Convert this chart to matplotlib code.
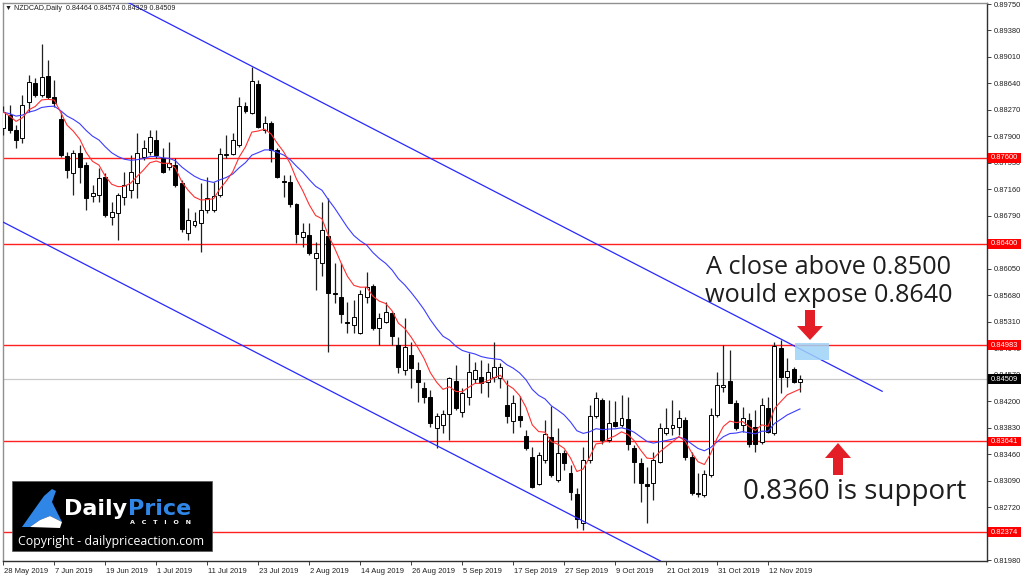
import matplotlib
matplotlib.use("Agg")
import matplotlib.pyplot as plt
from matplotlib.patches import Rectangle, Polygon
import matplotlib.transforms as mtransforms
import numpy as np
import pandas as pd

# ---------------- data ----------------
header_text = "\u25BC NZDCAD,Daily  0.84464 0.84574 0.84329 0.84509"
start_date = "2019-05-28"

opens = [0.8802, 0.8820, 0.8799, 0.8788, 0.8838, 0.8865, 0.8848, 0.8874, 0.8845, 0.8814,
         0.8763, 0.8739, 0.8767, 0.8750, 0.8707, 0.8708, 0.8733, 0.8678, 0.8683, 0.8705,
         0.8715, 0.8725, 0.8761, 0.8768, 0.8785, 0.8760, 0.8747, 0.8750, 0.8725, 0.8655,
         0.8666, 0.8669, 0.8687, 0.8687, 0.8708, 0.8764, 0.8766, 0.8778, 0.8833, 0.8823,
         0.8863, 0.8799, 0.8809, 0.8771, 0.8728, 0.8727, 0.8696, 0.8650, 0.8652, 0.8620,
         0.8613, 0.8651, 0.8571, 0.8566, 0.8531, 0.8527, 0.8515, 0.8566, 0.8581, 0.8522,
         0.8531, 0.8543, 0.8499, 0.8464, 0.8485, 0.8464, 0.8439, 0.8426, 0.8383, 0.8387,
         0.8402, 0.8448, 0.8405, 0.8426, 0.8451, 0.8454, 0.8447, 0.8454, 0.8453, 0.8415,
         0.8392, 0.8400, 0.8372, 0.8342, 0.8304, 0.8338, 0.8370, 0.8310, 0.8348, 0.8320,
         0.8290, 0.8250, 0.8338, 0.8400, 0.8422, 0.8366, 0.8391, 0.8387, 0.8395, 0.8355,
         0.8334, 0.8304, 0.8306, 0.8335, 0.8376, 0.8382, 0.8384, 0.8394, 0.8342, 0.8292,
         0.8289, 0.8317, 0.8401, 0.8440, 0.8448, 0.8418, 0.8387, 0.8394, 0.8384, 0.8363,
         0.8411, 0.8376, 0.8494, 0.8454, 0.8465, 0.84464]
highs = [0.8833, 0.8834, 0.8806, 0.8848, 0.8876, 0.8872, 0.8919, 0.8897, 0.8869, 0.8824,
         0.8768, 0.8771, 0.8778, 0.8754, 0.8722, 0.8746, 0.8739, 0.8698, 0.8711, 0.8741,
         0.8764, 0.8795, 0.8785, 0.8799, 0.8799, 0.8774, 0.8782, 0.8760, 0.8729, 0.8690,
         0.8684, 0.8725, 0.8733, 0.8726, 0.8774, 0.8792, 0.8795, 0.8845, 0.8838, 0.8887,
         0.8869, 0.8818, 0.8812, 0.8774, 0.8736, 0.8736, 0.8697, 0.8669, 0.8669, 0.8643,
         0.8698, 0.8704, 0.8613, 0.8613, 0.8559, 0.8562, 0.8576, 0.8601, 0.8584, 0.8544,
         0.8559, 0.8545, 0.8510, 0.8536, 0.8503, 0.8475, 0.8447, 0.8436, 0.8404, 0.8408,
         0.8454, 0.8471, 0.8439, 0.8488, 0.8475, 0.8478, 0.8473, 0.8503, 0.8473, 0.8450,
         0.8429, 0.8427, 0.8380, 0.8356, 0.8349, 0.8394, 0.8413, 0.8383, 0.8352, 0.8331,
         0.8299, 0.8356, 0.8415, 0.8433, 0.8425, 0.8422, 0.8420, 0.8429, 0.8426, 0.8359,
         0.8341, 0.8328, 0.8349, 0.8390, 0.8411, 0.8422, 0.8408, 0.8398, 0.8349, 0.8320,
         0.8324, 0.8411, 0.8461, 0.8499, 0.8492, 0.8422, 0.8412, 0.8404, 0.8408, 0.8425,
         0.8426, 0.8503, 0.8506, 0.8481, 0.8468, 0.84574]
lows = [0.8792, 0.8795, 0.8774, 0.8781, 0.8824, 0.8845, 0.8845, 0.8842, 0.8831, 0.8761,
        0.8732, 0.8708, 0.8725, 0.8687, 0.8698, 0.8698, 0.8678, 0.8666, 0.8645, 0.8694,
        0.8704, 0.8704, 0.8757, 0.8764, 0.8760, 0.8739, 0.8743, 0.8720, 0.8656, 0.8645,
        0.8664, 0.8629, 0.8683, 0.8684, 0.8705, 0.8760, 0.8764, 0.8775, 0.8823, 0.8821,
        0.8802, 0.8795, 0.8754, 0.8732, 0.8705, 0.8691, 0.8641, 0.8636, 0.8624, 0.8576,
        0.8595, 0.8489, 0.8557, 0.8529, 0.8515, 0.8515, 0.8514, 0.8557, 0.8520, 0.8499,
        0.8529, 0.8499, 0.8460, 0.8457, 0.8439, 0.8419, 0.8418, 0.8384, 0.8355, 0.8376,
        0.8366, 0.8408, 0.8398, 0.8415, 0.8446, 0.8432, 0.8426, 0.8447, 0.8439, 0.8390,
        0.8376, 0.8384, 0.8352, 0.8299, 0.8303, 0.8334, 0.8314, 0.8307, 0.8324, 0.8282,
        0.8243, 0.8240, 0.8334, 0.8396, 0.8360, 0.8363, 0.8384, 0.8384, 0.8352, 0.8306,
        0.8279, 0.8250, 0.8282, 0.8334, 0.8373, 0.8373, 0.8373, 0.8338, 0.8289, 0.8286,
        0.8286, 0.8314, 0.8398, 0.8433, 0.8418, 0.8380, 0.8377, 0.8356, 0.8349, 0.8360,
        0.8376, 0.8373, 0.8432, 0.8440, 0.8446, 0.84329]
closes = [0.8824, 0.8799, 0.8785, 0.8834, 0.8866, 0.8848, 0.8873, 0.8845, 0.8837, 0.8764,
          0.8743, 0.8767, 0.8747, 0.8704, 0.8711, 0.8732, 0.8680, 0.8684, 0.8708, 0.8722,
          0.8741, 0.8767, 0.8774, 0.8789, 0.8764, 0.8741, 0.8753, 0.8722, 0.8660, 0.8673,
          0.8672, 0.8687, 0.8704, 0.8707, 0.8766, 0.8766, 0.8785, 0.8833, 0.8826, 0.8868,
          0.8803, 0.8809, 0.8771, 0.8733, 0.8727, 0.8696, 0.8654, 0.8656, 0.8627, 0.8627,
          0.8659, 0.8571, 0.8570, 0.8542, 0.8529, 0.8538, 0.8570, 0.8580, 0.8522, 0.8536,
          0.8545, 0.8511, 0.8468, 0.8496, 0.8467, 0.8447, 0.8426, 0.8390, 0.8399, 0.8402,
          0.8453, 0.8411, 0.8432, 0.8461, 0.8464, 0.8446, 0.8461, 0.8468, 0.8468, 0.8399,
          0.8418, 0.8394, 0.8355, 0.8300, 0.8345, 0.8374, 0.8317, 0.8348, 0.8334, 0.8293,
          0.8256, 0.8338, 0.8400, 0.8425, 0.8366, 0.8390, 0.8385, 0.8397, 0.8360, 0.8335,
          0.8306, 0.8301, 0.8338, 0.8382, 0.8382, 0.8387, 0.8397, 0.8342, 0.8292, 0.8291,
          0.8318, 0.8401, 0.8443, 0.8443, 0.8418, 0.8383, 0.8397, 0.8360, 0.8360, 0.8415,
          0.8377, 0.8497, 0.8454, 0.8462, 0.8447, 0.84509]

ema_fast_span = 8
ema_slow_span = 21

level_prices = [0.87600, 0.86400, 0.84983, 0.83641, 0.82374]
level_labels = ["0.87600", "0.86400", "0.84983", "0.83641", "0.82374"]
current_price = 0.84509
current_label = "0.84509"

ytick_values = [0.89750, 0.89380, 0.89010, 0.88640, 0.88270, 0.87900, 0.87530, 0.87160,
                0.86790, 0.86420, 0.86050, 0.85680, 0.85310, 0.84940, 0.84570, 0.84200,
                0.83830, 0.83460, 0.83090, 0.82720, 0.82350, 0.81980]
hidden_ytick_values = [0.86420, 0.82350]   # fully covered by level boxes in the reference
xtick_labels = ["28 May 2019", "7 Jun 2019", "19 Jun 2019", "1 Jul 2019", "11 Jul 2019",
                "23 Jul 2019", "2 Aug 2019", "14 Aug 2019", "26 Aug 2019", "5 Sep 2019",
                "17 Sep 2019", "27 Sep 2019", "9 Oct 2019", "21 Oct 2019", "31 Oct 2019",
                "12 Nov 2019"]

# channel trend lines: (bar index, price) anchors
upper_channel = [(39.0, 0.8888), (137.9, 0.8434)]
lower_channel = [(-0.4, 0.8672), (103.1, 0.8197)]

annotation_top = ["A close above 0.8500", "would expose 0.8640"]
annotation_bottom = "0.8360 is support"
logo_word1 = "Daily"
logo_word2 = "Price"
logo_word3 = "A   C   T   I   O   N"
copyright_text = "Copyright - dailypriceaction.com"

# ---------------- figure ----------------
W, H = 1024, 578
fig = plt.figure(figsize=(W / 100, H / 100), dpi=100)
fig.patch.set_facecolor("white")
small_font = ["Liberation Sans", "DejaVu Sans"]

L, R, T, B = 3, 987, 3, 561
ax = fig.add_axes([L / W, (H - B) / H, (R - L) / W, (B - T) / H])
ax.set_facecolor("white")

n = len(closes)
xs = np.arange(n)
dates = pd.bdate_range(start_date, periods=n)

o = np.array(opens); h = np.array(highs); lo = np.array(lows); c = np.array(closes)

# wicks
ax.vlines(xs, lo, h, color="#202020", lw=0.9, zorder=3)
# bodies
bw = 0.62
for i in range(n):
    bottom = min(o[i], c[i])
    height = abs(c[i] - o[i])
    bull = c[i] >= o[i]
    if height < 0.00004:
        ax.hlines(o[i], i - bw / 2, i + bw / 2, color="black", lw=0.9, zorder=4)
    else:
        ax.add_patch(Rectangle((i - bw / 2, bottom), bw, height,
                               facecolor="white" if bull else "black",
                               edgecolor="black", lw=0.7, zorder=4))

# moving averages
cs = pd.Series(closes)
ema_fast = cs.ewm(span=ema_fast_span, adjust=False).mean()
ema_slow = cs.ewm(span=ema_slow_span, adjust=False).mean()
ax.plot(xs, ema_slow, color="#3c3cff", lw=0.8, zorder=5)
ax.plot(xs, ema_fast, color="#ff3030", lw=0.8, zorder=5)

# horizontal levels
for p in level_prices:
    ax.axhline(p, color="#ff2020", lw=1.0, zorder=2)
ax.axhline(current_price, color="#c8c8c8", lw=0.9, zorder=1)

# channel lines
def line_through(pts, x0, x1):
    (xa, ya), (xb, yb) = pts
    slope = (yb - ya) / (xb - xa)
    return [x0, x1], [ya + slope * (x0 - xa), ya + slope * (x1 - xa)]

ux, uy = line_through(upper_channel, 0.0, upper_channel[1][0])
ax.plot(ux, uy, color="#2828ff", lw=0.9, zorder=6)
lx, ly = line_through(lower_channel, -1.0, lower_channel[1][0])
ax.plot(lx, ly, color="#2828ff", lw=0.9, zorder=6)

ax.set_xlim(-0.05, 154.35)
ax.set_ylim(0.81969, 0.89764)

# axes styling
for side in ["left", "top"]:
    ax.spines[side].set_color("#909090")
    ax.spines[side].set_linewidth(1.0)
for side in ["right", "bottom"]:
    ax.spines[side].set_color("#303030")
    ax.spines[side].set_linewidth(1.0)

ax.yaxis.tick_right()
ax.set_yticks(ytick_values)
ax.set_yticklabels(["" if v in hidden_ytick_values else f"{v:.5f}" for v in ytick_values],
                   fontfamily=small_font)
ax.tick_params(axis="y", direction="out", length=3, width=0.6, pad=1.5,
               labelsize=5.4, colors="#202020")

tick_pos = []
for lab in xtick_labels:
    d = pd.to_datetime(lab, format="%d %b %Y")
    tick_pos.append(int(np.where(dates == d)[0][0]))
ax.set_xticks(tick_pos)
ax.set_xticklabels(xtick_labels, ha="left", fontfamily=small_font)
ax.tick_params(axis="x", direction="out", length=3, width=0.6, pad=2,
               labelsize=5.5, colors="#202020")
for lbl in ax.get_xticklabels():
    lbl.set_transform(lbl.get_transform() + mtransforms.ScaledTranslation(0.8 / 100, 0, fig.dpi_scale_trans))

# ---------------- overlay in pixel coords ----------------
ov = fig.add_axes([0, 0, 1, 1])
ov.set_xlim(0, W)
ov.set_ylim(H, 0)
ov.axis("off")
ov.patch.set_alpha(0)

def price_to_px(p):
    return H - ax.transData.transform((0, p))[1]

# right-side price boxes
for p, s in zip(level_prices, level_labels):
    yp = price_to_px(p)
    ov.add_patch(Rectangle((988, yp - 4.8), 33, 9.6, facecolor="#ff0000", edgecolor="none", zorder=10))
    ov.text(1004.5, yp, s, color="white", fontsize=5.4, family=small_font,
            ha="center", va="center", zorder=11)
yp = price_to_px(current_price)
ov.add_patch(Rectangle((988, yp - 4.8), 33, 9.6, facecolor="black", edgecolor="none", zorder=10))
ov.text(1004.5, yp, current_label, color="white", fontsize=5.4, family=small_font,
        ha="center", va="center", zorder=11)

# header
ov.text(5, 8, header_text, fontsize=5.1, family=small_font, color="#202020",
        ha="left", va="center")

# annotations
ov.text(829, 268, annotation_top[0], fontsize=18.2, family="Open Sans", color="#1e1e1e",
        ha="center", va="center")
ov.text(829, 295, annotation_top[1], fontsize=18.2, family="Open Sans", color="#1e1e1e",
        ha="center", va="center")
ov.text(855, 492, annotation_bottom, fontsize=20, family="Open Sans", color="#1e1e1e",
        ha="center", va="center")

# highlight box
ov.add_patch(Rectangle((795, 343), 34, 17, facecolor="#9fd3f7", edgecolor="none", alpha=0.85, zorder=7))

# red arrows
arrow_red = "#e41e26"
ov.add_patch(Polygon([(805, 310), (815, 310), (815, 326), (823, 326), (810, 340),
                      (797, 326), (805, 326)], closed=True, facecolor=arrow_red,
                     edgecolor="none", zorder=8))
ov.add_patch(Polygon([(833, 475), (843, 475), (843, 458), (851, 458), (838, 443),
                      (825, 458), (833, 458)], closed=True, facecolor=arrow_red,
                     edgecolor="none", zorder=8))

# logo
ov.add_patch(Rectangle((12, 481), 200, 70, facecolor="black", edgecolor="#555555", lw=0.5, zorder=12))
ov.add_patch(Polygon([(22, 527), (34, 510), (44, 496), (52, 489), (56, 491), (52, 502),
                      (58, 514), (62, 522), (50, 516), (40, 520), (30, 527)], closed=True,
                     facecolor="#2f86e6", edgecolor="none", zorder=13))
ov.add_patch(Polygon([(30, 527), (40, 520), (50, 516), (62, 522), (60, 528)], closed=True,
                     facecolor="white", edgecolor="none", zorder=13))
t1 = ov.text(64, 509, logo_word1, fontsize=16, fontweight="heavy", color="white",
             ha="left", va="center", zorder=13)
fig.canvas.draw()
x_end = t1.get_window_extent(renderer=fig.canvas.get_renderer()).x1
ov.text(x_end + 1, 509, logo_word2, fontsize=16, fontweight="heavy", color="#2f86e6",
        ha="left", va="center", zorder=13)
ov.text(160, 522, logo_word3, fontsize=4.6, fontweight="bold", color="white",
        ha="center", va="center", zorder=13)
ov.text(111, 542, copyright_text, fontsize=8.9, family="Open Sans", color="white",
        ha="center", va="center", zorder=13)

fig.savefig("out.png", dpi=100)
